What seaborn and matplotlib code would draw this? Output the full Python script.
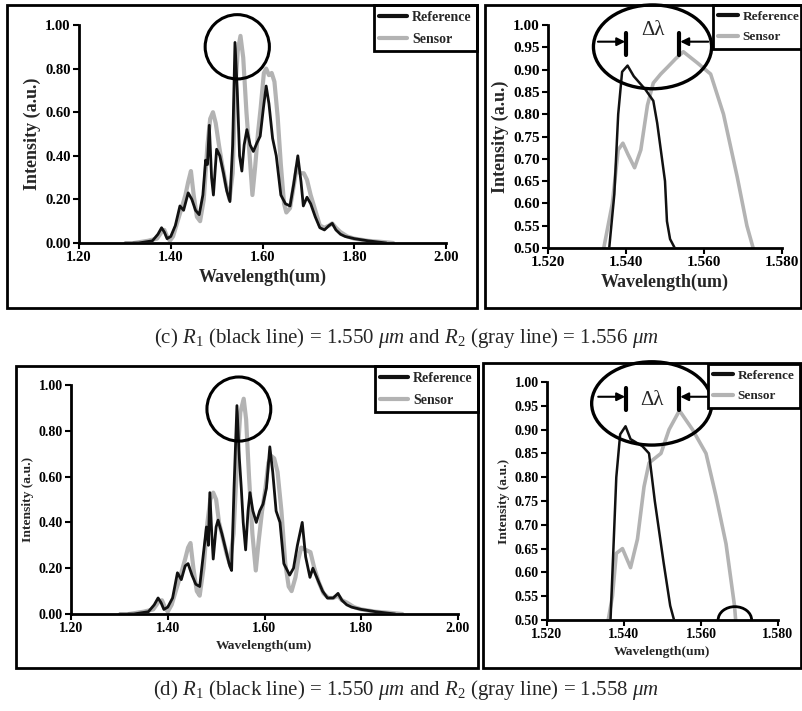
import matplotlib
matplotlib.use("Agg")
import matplotlib.pyplot as plt
from matplotlib.patches import Ellipse, Rectangle
from matplotlib.ticker import FormatStrFormatter, MultipleLocator
import seaborn as sns

# ---- panel (c): full spectrum ----
c_ref_wl = [1.30, 1.33, 1.36, 1.372, 1.380, 1.386, 1.392, 1.400, 1.410, 1.420, 1.428, 1.438, 1.446,
            1.454, 1.462, 1.470, 1.476, 1.480, 1.484, 1.489, 1.493, 1.500, 1.507, 1.515, 1.522,
            1.529, 1.535, 1.540, 1.545, 1.550, 1.555, 1.560, 1.566, 1.573, 1.580, 1.588, 1.595,
            1.602, 1.608, 1.614, 1.622, 1.630, 1.640, 1.650, 1.660, 1.668, 1.677, 1.684, 1.689,
            1.697, 1.705, 1.715, 1.725, 1.735, 1.745, 1.752, 1.760, 1.770, 1.780, 1.800, 1.830,
            1.850, 1.870]
c_ref_int = [0.00, 0.00, 0.01, 0.04, 0.07, 0.05, 0.02, 0.03, 0.08, 0.17, 0.15, 0.23, 0.20,
             0.15, 0.13, 0.22, 0.38, 0.36, 0.54, 0.30, 0.22, 0.43, 0.40, 0.32, 0.24,
             0.19, 0.45, 0.92, 0.70, 0.40, 0.33, 0.45, 0.52, 0.45, 0.42, 0.46, 0.49,
             0.62, 0.72, 0.64, 0.48, 0.40, 0.22, 0.18, 0.17, 0.27, 0.40, 0.28, 0.17,
             0.21, 0.18, 0.12, 0.07, 0.06, 0.08, 0.09, 0.06, 0.04, 0.03, 0.02, 0.01,
             0.005, 0.00]
c_sen_wl = [1.32, 1.35, 1.37, 1.380, 1.386, 1.392, 1.398, 1.405, 1.415, 1.425, 1.432, 1.438, 1.444,
            1.450, 1.457, 1.464, 1.472, 1.480, 1.486, 1.492, 1.498, 1.505, 1.512, 1.520, 1.528,
            1.535, 1.541, 1.546, 1.552, 1.558, 1.565, 1.572, 1.578, 1.584, 1.590, 1.596, 1.603,
            1.608, 1.614, 1.620, 1.626, 1.633, 1.640, 1.647, 1.652, 1.660, 1.668, 1.675, 1.682,
            1.690, 1.697, 1.705, 1.715, 1.725, 1.735, 1.745, 1.752, 1.760, 1.770, 1.785, 1.800,
            1.830, 1.860, 1.885]
c_sen_int = [0.00, 0.01, 0.02, 0.05, 0.06, 0.03, 0.01, 0.03, 0.10, 0.17, 0.22, 0.28, 0.33,
             0.22, 0.12, 0.10, 0.20, 0.45, 0.57, 0.60, 0.55, 0.45, 0.36, 0.27, 0.20,
             0.32, 0.72, 0.88, 0.95, 0.85, 0.60, 0.40, 0.22, 0.35, 0.50, 0.62, 0.78,
             0.80, 0.77, 0.78, 0.74, 0.58, 0.36, 0.18, 0.14, 0.16, 0.26, 0.35, 0.32,
             0.32, 0.29, 0.22, 0.15, 0.08, 0.07, 0.08, 0.09, 0.07, 0.05, 0.03, 0.02,
             0.01, 0.005, 0.00]

# ---- panel (d): full spectrum ----
d_ref_wl = [1.30, 1.33, 1.36, 1.372, 1.380, 1.386, 1.392, 1.400, 1.410, 1.420, 1.428, 1.436, 1.442,
            1.450, 1.458, 1.466, 1.473, 1.480, 1.484, 1.487, 1.491, 1.494, 1.500, 1.504, 1.512,
            1.520, 1.528, 1.532, 1.537, 1.543, 1.548, 1.552, 1.556, 1.561, 1.566, 1.570, 1.576,
            1.583, 1.590, 1.597, 1.604, 1.611, 1.617, 1.624, 1.632, 1.640, 1.652, 1.660, 1.668,
            1.678, 1.685, 1.694, 1.700, 1.710, 1.720, 1.730, 1.742, 1.752, 1.760, 1.770, 1.780,
            1.800, 1.830, 1.850, 1.870]
d_ref_int = [0.00, 0.00, 0.01, 0.04, 0.07, 0.05, 0.02, 0.03, 0.07, 0.18, 0.15, 0.21, 0.22,
             0.17, 0.13, 0.12, 0.25, 0.38, 0.30, 0.53, 0.35, 0.24, 0.38, 0.41, 0.35,
             0.28, 0.21, 0.19, 0.55, 0.91, 0.68, 0.55, 0.40, 0.28, 0.45, 0.53, 0.45,
             0.40, 0.45, 0.48, 0.55, 0.73, 0.62, 0.45, 0.40, 0.22, 0.17, 0.20, 0.30,
             0.40, 0.25, 0.16, 0.20, 0.15, 0.10, 0.07, 0.07, 0.09, 0.06, 0.04, 0.03,
             0.02, 0.01, 0.005, 0.00]
d_sen_wl = [1.32, 1.35, 1.37, 1.380, 1.388, 1.394, 1.400, 1.408, 1.418, 1.428, 1.436, 1.442, 1.447,
            1.453, 1.460, 1.466, 1.474, 1.482, 1.488, 1.494, 1.500, 1.506, 1.514, 1.522, 1.528,
            1.536, 1.543, 1.550, 1.557, 1.562, 1.568, 1.575, 1.582, 1.588, 1.595, 1.602, 1.608,
            1.614, 1.620, 1.627, 1.635, 1.643, 1.650, 1.656, 1.664, 1.670, 1.676, 1.685, 1.695,
            1.703, 1.712, 1.722, 1.732, 1.742, 1.752, 1.760, 1.770, 1.785, 1.800, 1.830, 1.860,
            1.885]
d_sen_int = [0.00, 0.01, 0.02, 0.05, 0.06, 0.03, 0.01, 0.04, 0.11, 0.18, 0.24, 0.29, 0.31,
             0.20, 0.10, 0.08, 0.20, 0.40, 0.50, 0.53, 0.50, 0.40, 0.33, 0.26, 0.22,
             0.35, 0.65, 0.88, 0.94, 0.85, 0.60, 0.35, 0.19, 0.32, 0.45, 0.55, 0.66,
             0.69, 0.68, 0.62, 0.45, 0.22, 0.12, 0.10, 0.16, 0.24, 0.29, 0.28, 0.27,
             0.20, 0.14, 0.09, 0.07, 0.07, 0.08, 0.06, 0.05, 0.03, 0.02, 0.01, 0.005,
             0.00]

# ---- zoomed peaks ----
cz_ref_wl = [1.5350, 1.5357, 1.5370, 1.5380, 1.5390, 1.5404, 1.5420, 1.5450, 1.5470, 1.5480,
             1.5500, 1.5505, 1.5513, 1.5525, 1.5540]
cz_ref_int = [0.45, 0.50, 0.62, 0.80, 0.895, 0.909, 0.885, 0.855, 0.83, 0.78,
              0.65, 0.56, 0.52, 0.50, 0.49]
cz_sen_wl = [1.5335, 1.5343, 1.5365, 1.5380, 1.5392, 1.5405, 1.5422, 1.5438, 1.5455, 1.5470,
             1.5489, 1.5506, 1.5528, 1.5547, 1.5583, 1.5617, 1.5650, 1.5685, 1.5710, 1.5726, 1.5735]
cz_sen_int = [0.45, 0.50, 0.60, 0.72, 0.735, 0.71, 0.68, 0.72, 0.82, 0.87,
              0.89, 0.905, 0.925, 0.94, 0.915, 0.89, 0.80, 0.66, 0.55, 0.50, 0.47]

dz_ref_wl = [1.5358, 1.5365, 1.5380, 1.5390, 1.5404, 1.5417, 1.5448, 1.5465, 1.5480, 1.5503,
             1.5520, 1.5530, 1.5535]
dz_ref_int = [0.45, 0.50, 0.80, 0.89, 0.907, 0.88, 0.865, 0.85, 0.75, 0.62,
              0.53, 0.50, 0.48]
dz_sen_wl = [1.5352, 1.5359, 1.5370, 1.5380, 1.5396, 1.5417, 1.5435, 1.5452, 1.5465, 1.5496,
             1.5517, 1.5544, 1.5578, 1.5613, 1.5639, 1.5665, 1.5687, 1.5690, 1.5695]
dz_sen_int = [0.45, 0.50, 0.55, 0.64, 0.65, 0.61, 0.67, 0.78, 0.83, 0.85,
              0.90, 0.94, 0.90, 0.85, 0.76, 0.66, 0.53, 0.50, 0.47]

captions = [r"(c) $R_1$ (black line) = 1.550 $\mu m$ and $R_2$ (gray line) = 1.556 $\mu m$",
            r"(d) $R_1$ (black line) = 1.550 $\mu m$ and $R_2$ (gray line) = 1.558 $\mu m$"]

BLACK = "#111111"
GRAY = "#b3b3b3"

sns.set_style("ticks")
plt.rcParams['font.family'] = ['Liberation Serif', 'DejaVu Serif']
plt.rcParams['font.weight'] = 'bold'
plt.rcParams['axes.labelweight'] = 'bold'
plt.rcParams['mathtext.fontset'] = 'custom'
plt.rcParams['mathtext.rm'] = 'Liberation Serif:normal'
plt.rcParams['mathtext.it'] = 'Liberation Serif:italic:normal'
plt.rcParams['mathtext.bf'] = 'Liberation Serif:bold'

W, H = 803, 711
fig = plt.figure(figsize=(W / 100, H / 100), dpi=100)


def px_rect(x0, y0, x1, y1):
    # pixel box (top-left origin) -> figure fraction [left, bottom, width, height]
    return [x0 / W, 1 - y1 / H, (x1 - x0) / W, (y1 - y0) / H]


def style_axes(ax, tick_fs, label_fs):
    sns.despine(ax=ax)
    for s in ['left', 'bottom']:
        ax.spines[s].set_linewidth(2)
        ax.spines[s].set_color('black')
    ax.tick_params(direction='out', length=4, width=1.5, labelsize=tick_fs, pad=2, colors='black')
    ax.set_xlabel("Wavelength(um)", fontsize=label_fs, labelpad=3)
    ax.set_ylabel("Intensity (a.u.)", fontsize=label_fs, labelpad=3)


def add_legend(ax, anchor, loc, handlelength=2.0, fs=10):
    # Reference first, Sensor second
    h, l = ax.get_legend_handles_labels()
    order = [l.index("Reference"), l.index("Sensor")]
    leg = ax.legend([h[i] for i in order], [l[i] for i in order],
                    loc=loc, bbox_to_anchor=anchor, bbox_transform=fig.transFigure,
                    frameon=True, fancybox=False, framealpha=1, edgecolor='black',
                    prop={'weight': 'bold', 'size': fs, 'family': 'Liberation Serif'},
                    handlelength=handlelength, handletextpad=0.35, borderpad=0.4,
                    labelspacing=0.65, borderaxespad=0)
    leg.get_frame().set_linewidth(2)
    for line in leg.get_lines():
        line.set_linewidth(3)


def full_panel(box, ref_wl, ref_int, sen_wl, sen_int, circ, tick_fs, label_fs, leg_anchor):
    ax = fig.add_axes(px_rect(*box))
    sns.lineplot(x=sen_wl, y=sen_int, ax=ax, color=GRAY, lw=3, label="Sensor", sort=False, zorder=2)
    sns.lineplot(x=ref_wl, y=ref_int, ax=ax, color=BLACK, lw=2, label="Reference", sort=False, zorder=3)
    ax.set_xlim(1.2, 2.0)
    ax.set_ylim(0, 1.0)
    ax.xaxis.set_major_locator(MultipleLocator(0.2))
    ax.yaxis.set_major_locator(MultipleLocator(0.2))
    ax.xaxis.set_major_formatter(FormatStrFormatter('%.2f'))
    ax.yaxis.set_major_formatter(FormatStrFormatter('%.2f'))
    style_axes(ax, tick_fs, label_fs)
    ax.add_patch(Ellipse(circ[:2], circ[2], circ[3], fill=False, lw=2.2, ec='black',
                         clip_on=False, zorder=5))
    add_legend(ax, leg_anchor, 'upper right')
    return ax


def zoom_panel(box, ref_wl, ref_int, sen_wl, sen_int, ell, bars, arrow_y, bar_y, dl_xy,
               tick_fs, label_fs, leg_anchor, leg_fs):
    ax = fig.add_axes(px_rect(*box))
    sns.lineplot(x=sen_wl, y=sen_int, ax=ax, color=GRAY, lw=2.6, label="Sensor", sort=False, zorder=2)
    sns.lineplot(x=ref_wl, y=ref_int, ax=ax, color=BLACK, lw=1.8, label="Reference", sort=False, zorder=3)
    ax.set_xlim(1.52, 1.58)
    ax.set_ylim(0.5, 1.0)
    ax.xaxis.set_major_locator(MultipleLocator(0.02))
    ax.yaxis.set_major_locator(MultipleLocator(0.05))
    ax.xaxis.set_major_formatter(FormatStrFormatter('%.3f'))
    ax.yaxis.set_major_formatter(FormatStrFormatter('%.2f'))
    style_axes(ax, tick_fs, label_fs)
    ax.add_patch(Ellipse(ell[:2], ell[2], ell[3], fill=False, lw=2.4, ec='black',
                         clip_on=False, zorder=5))
    for bx in bars:
        ax.plot([bx, bx], bar_y, color='black', lw=3, clip_on=False, zorder=6)
    ax.annotate("", xy=(bars[0] - 0.0002, arrow_y), xytext=(bars[0] - 0.0072, arrow_y),
                arrowprops=dict(arrowstyle='-|>', color='black', lw=1.5, mutation_scale=12,
                                shrinkA=0, shrinkB=0), annotation_clip=False)
    ax.annotate("", xy=(bars[1] + 0.0002, arrow_y), xytext=(bars[1] + 0.0074, arrow_y),
                arrowprops=dict(arrowstyle='-|>', color='black', lw=1.5, mutation_scale=12,
                                shrinkA=0, shrinkB=0), annotation_clip=False)
    ax.text(dl_xy[0], dl_xy[1], "Δλ", fontsize=15, fontweight='normal', ha='center', va='center',
            clip_on=False, zorder=6)
    add_legend(ax, leg_anchor, 'upper left', handlelength=1.5, fs=leg_fs)
    return ax


# panel frames
for x0, y0, x1, y1 in [(7, 5, 477, 308), (485, 5, 801, 308), (16, 366, 478, 668), (483, 363, 801, 668)]:
    fig.patches.append(Rectangle((x0 / W, 1 - y1 / H), (x1 - x0) / W, (y1 - y0) / H,
                                 transform=fig.transFigure, fill=False, ec='black', lw=2))

full_panel((79, 25, 446, 243), c_ref_wl, c_ref_int, c_sen_wl, c_sen_int,
           (1.545, 0.90, 0.140, 0.295), 10.5, 13, (477 / W, 1 - 5 / H))
zoom_panel((548, 25, 782, 248), cz_ref_wl, cz_ref_int, cz_sen_wl, cz_sen_int,
           (1.5468, 0.951, 0.0303, 0.188), (1.5400, 1.5537), 0.9626, (0.933, 0.982),
           (1.5468, 0.987), 11, 13, (713 / W, 1 - 5 / H), 9.5)

full_panel((71, 385, 458, 614), d_ref_wl, d_ref_int, d_sen_wl, d_sen_int,
           (1.547, 0.895, 0.132, 0.28), 10, 9.7, (478 / W, 1 - 366 / H))
ax_d = zoom_panel((547, 382, 778, 620), dz_ref_wl, dz_ref_int, dz_sen_wl, dz_sen_int,
                  (1.5472, 0.955, 0.0312, 0.175), (1.5405, 1.5544), 0.969, (0.941, 0.987),
                  (1.5474, 0.962), 10, 9.7, (708 / W, 1 - 364 / H), 9.5)
# small arc near the base of the sensor curve
ax_d.add_patch(Ellipse((1.5688, 0.5), 0.0087, 0.056, fill=False, lw=2, ec='black', zorder=5))

fig.text(406 / W, 1 - 338 / H, captions[0], ha='center', va='center', fontsize=15, fontweight='normal')
fig.text(406 / W, 1 - 690 / H, captions[1], ha='center', va='center', fontsize=15, fontweight='normal')

fig.savefig("out.png", dpi=100)
